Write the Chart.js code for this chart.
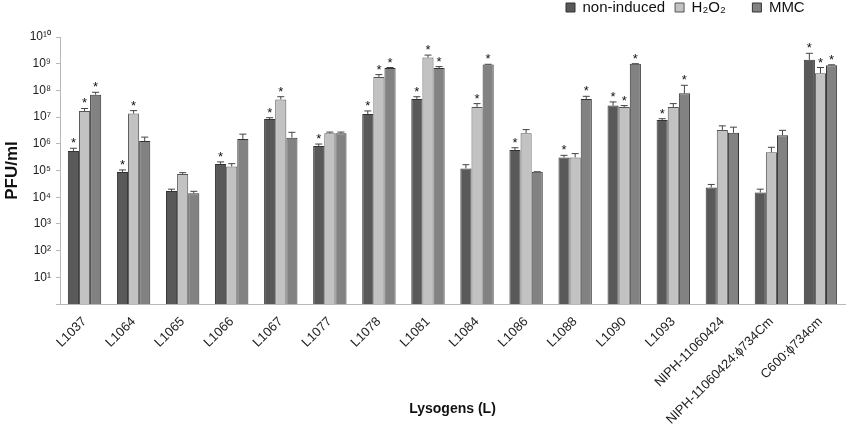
<!DOCTYPE html>
<html>
<head>
<meta charset="utf-8">
<script src="https://cdn.jsdelivr.net/npm/chart.js@4"></script>
<style>
  html, body { margin: 0; padding: 0; background: #fff; }
  #wrap { width: 850px; height: 439px; }
</style>
</head>
<body>
<div id="wrap"><canvas id="pfuChart"></canvas></div>
<script>
// lysogens on the x axis
const lysogens = ["L1037", "L1064", "L1065", "L1066", "L1067", "L1077", "L1078", "L1081",
    "L1084", "L1086", "L1088", "L1090", "L1093", "NIPH-11060424",
    "NIPH-11060424:\u03d5734Cm", "C600:\u03d5734cm"];

// PFU/ml, mean values
const nonInduced = [5.4e5, 8.8e4, 1.7e4, 1.75e5, 8.5e6, 8.3e5, 1.3e7, 4.8e7, 1.2e5, 5.9e5, 3.1e5, 2.7e7, 7.8e6, 2.3e4, 1.5e4, 1.4e9];
const h2o2 = [1.7e7, 1.35e7, 7.4e4, 1.4e5, 4.6e7, 2.5e6, 3.2e8, 1.7e9, 2.4e7, 2.5e6, 3.1e5, 2.4e7, 2.4e7, 3.3e6, 4.8e5, 4.4e8];
const mmc = [6.9e7, 1.26e6, 1.4e4, 1.5e6, 1.7e6, 2.5e6, 6.9e8, 6.9e8, 9.3e8, 9e4, 4.8e7, 1e9, 7.8e7, 2.6e6, 2.1e6, 8.7e8];

// upper end of the error bars
const nonInducedErr = [6.8e5, 1.05e5, 2.0e4, 2.1e5, 9.5e6, 9.8e5, 1.7e7, 5.8e7, 1.65e5, 7.1e5, 3.7e5, 3.7e7, 8.7e6, 3.0e4, 2.0e4, 2.45e9];
const h2o2Err = [2.1e7, 1.75e7, 8.3e4, 1.8e5, 5.8e7, 2.75e6, 3.9e8, 2.1e9, 3.2e7, 3.4e6, 4.3e5, 2.7e7, 3.2e7, 4.7e6, 7.4e5, 7.2e8];
const mmcErr = [8.5e7, 1.78e6, 1.66e4, 2.3e6, 2.7e6, 2.75e6, 7.2e8, 7.8e8, 9.5e8, 9e4, 6e7, 1e9, 1.55e8, 4.2e6, 3.2e6, 9.1e8];

// significance stars (1 = star shown)
const nonInducedStar = [1, 1, 0, 1, 1, 1, 1, 1, 0, 1, 1, 1, 1, 0, 0, 1];
const h2o2Star = [1, 1, 0, 0, 1, 0, 1, 1, 1, 0, 0, 1, 0, 0, 0, 1];
const mmcStar = [1, 0, 0, 0, 0, 0, 1, 1, 1, 0, 1, 1, 1, 0, 0, 1];

// y ticks: powers of ten
const yExponents = [0, 1, 2, 3, 4, 5, 6, 7, 8, 9, 10];

const supDigits = "\u2070\u00b9\u00b2\u00b3\u2074\u2075\u2076\u2077\u2078\u2079";
function toSup(n) {
    return String(n).split("").map(d => supDigits[+d]).join("");
}

const errTops = [nonInducedErr, h2o2Err, mmcErr];
const stars = [nonInducedStar, h2o2Star, mmcStar];

// draws the upper error bars and the stars above them
const errorBarPlugin = {
    id: "errorBars",
    afterDatasetsDraw(chart) {
        const ctx = chart.ctx;
        const yScale = chart.scales.y;
        ctx.save();
        chart.data.datasets.forEach((ds, i) => {
            const meta = chart.getDatasetMeta(i);
            meta.data.forEach((bar, j) => {
                const yErr = yScale.getPixelForValue(errTops[i][j]);
                ctx.strokeStyle = "#444";
                ctx.lineWidth = 1;
                ctx.beginPath();
                ctx.moveTo(bar.x, bar.y);
                ctx.lineTo(bar.x, yErr);
                ctx.moveTo(bar.x - 3.5, yErr);
                ctx.lineTo(bar.x + 3.5, yErr);
                ctx.stroke();
                if (stars[i][j]) {
                    ctx.fillStyle = "#111";
                    ctx.font = "13px 'Liberation Sans', Arial, sans-serif";
                    ctx.textAlign = "center";
                    ctx.textBaseline = "alphabetic";
                    ctx.fillText("*", bar.x, yErr - 1);
                }
            });
        });
        ctx.restore();
    }
};

// moves the legend up into the top right corner
const legendPlace = {
    id: "legendPlace",
    afterLayout(chart) {
        const lg = chart.legend;
        if (!lg) return;
        const h = lg.bottom - lg.top;
        lg.top = -10;
        lg.bottom = lg.top + h;
        lg.left = 556;
    }
};

const ctx = document.getElementById("pfuChart").getContext("2d");
const pfuChart = new Chart(ctx, {
    type: "bar",
    data: {
        labels: lysogens,
        datasets: [
            {
                label: "non-induced",
                data: nonInduced,
                backgroundColor: "#595959",
                borderColor: "#333",
                borderWidth: 1,
            },
            {
                label: "H\u2082O\u2082    ",
                data: h2o2,
                backgroundColor: "#c2c2c2",
                borderColor: "#555",
                borderWidth: 1,
            },
            {
                label: "MMC",
                data: mmc,
                backgroundColor: "#828282",
                borderColor: "#333",
                borderWidth: 1,
            },
        ],
    },
    options: {
        responsive: true,
        maintainAspectRatio: false,
        animation: false,
        layout: { padding: { top: 2, right: 5, left: 0, bottom: 0 } },
        datasets: {
            bar: { categoryPercentage: 0.68, barPercentage: 1.0 }
        },
        scales: {
            x: {
                grid: { display: false },
                border: { display: true, color: "#b8b8b8", width: 1 },
                ticks: {
                    autoSkip: false,
                    minRotation: 45,
                    maxRotation: 45,
                    padding: 2,
                    color: "#222",
                    font: { family: "'Liberation Sans', Arial, sans-serif", size: 13 },
                },
                title: {
                    display: true,
                    text: "Lysogens (L)",
                    color: "#111",
                    font: { family: "'Liberation Sans', Arial, sans-serif", size: 14, weight: "bold" },
                    padding: { top: 0, bottom: 21 },
                },
                afterFit(scale) { scale.height = 135; },
            },
            y: {
                type: "logarithmic",
                min: 1,
                max: 1e10,
                grid: { display: true, drawOnChartArea: false, drawTicks: true, tickLength: 4, color: "#b8b8b8" },
                border: { display: true, color: "#b8b8b8", width: 1 },
                afterBuildTicks(scale) {
                    scale.ticks = yExponents.map(e => ({ value: Math.pow(10, e) }));
                },
                ticks: {
                    padding: 5,
                    color: "#222",
                    font: { family: "'Liberation Sans', Arial, sans-serif", size: 12 },
                    callback(value) {
                        const e = Math.round(Math.log10(value));
                        return e === 0 ? "" : "10" + toSup(e);
                    },
                },
                title: {
                    display: true,
                    text: "PFU/ml",
                    color: "#111",
                    font: { family: "'Liberation Sans', Arial, sans-serif", size: 17, weight: "bold" },
                    padding: { top: 2, bottom: 0 },
                },
                afterFit(scale) { scale.width = 60; },
            },
        },
        plugins: {
            legend: {
                position: "top",
                align: "start",
                labels: {
                    boxWidth: 9,
                    boxHeight: 9,
                    padding: 10,
                    color: "#111",
                    font: { family: "'Liberation Sans', Arial, sans-serif", size: 15 },
                },
            },
            tooltip: { enabled: false },
        },
    },
    plugins: [errorBarPlugin, legendPlace],
});
</script>
</body>
</html>
